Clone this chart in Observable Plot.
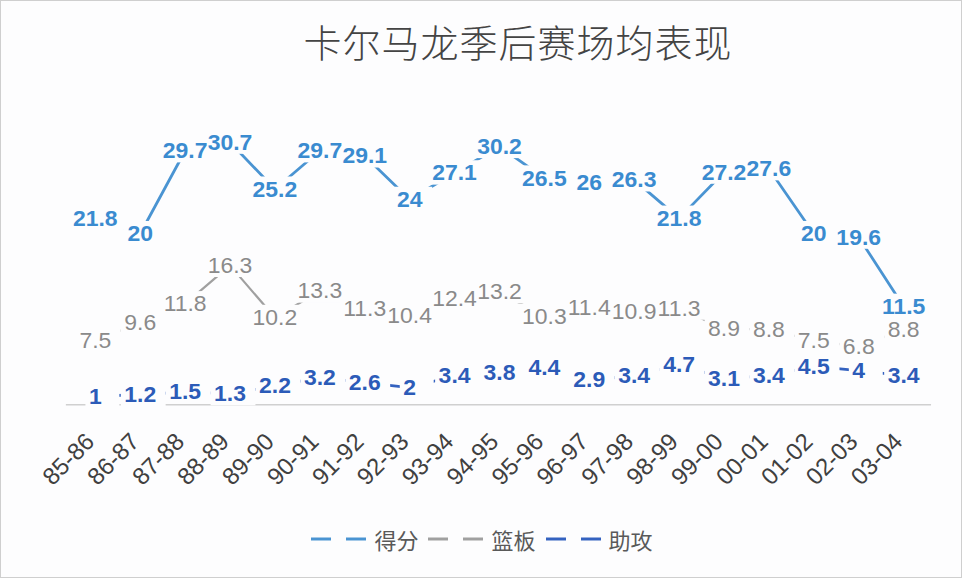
<!DOCTYPE html>
<html>
<head>
<meta charset="utf-8">
<script src="https://cdn.jsdelivr.net/npm/d3@7"></script>
<script src="https://cdn.jsdelivr.net/npm/@observablehq/plot@0.6"></script>
<style>
  body { margin: 0; background: #fff; }
  #wrap { position: relative; width: 962px; height: 578px; box-sizing: border-box; border: 1px solid #cfcfcf; background: #fdfdfe; overflow: hidden; font-family: "Liberation Sans", Arial, sans-serif; }
  #title { position: absolute; top: 12px; left: 0; width: 962px; padding-left: 72px; box-sizing: border-box; text-align: center; font-family: "Noto Sans CJK SC", sans-serif; font-weight: 300; font-size: 38px; color: #444; letter-spacing: 1px; }
  #chart { position: absolute; top: 80px; left: 0; }
  #legend { position: absolute; top: 522px; left: 0; width: 962px; display: flex; justify-content: center; align-items: center; font-family: "Noto Sans CJK SC", sans-serif; font-size: 22px; color: #595959; }
  .item { display: flex; align-items: center; margin: 0 5px; }
  .item svg { margin-right: 8px; }
</style>
</head>
<body>
<div id="wrap">
  <div id="title">卡尔马龙季后赛场均表现</div>
  <div id="chart"></div>
  <div id="legend"></div>
</div>
<script>
const seasons = ["85-86","86-87","87-88","88-89","89-90","90-91","91-92","92-93","93-94","94-95","95-96","96-97","97-98","98-99","99-00","00-01","01-02","02-03","03-04"];
const points   = [21.8,20,29.7,30.7,25.2,29.7,29.1,24,27.1,30.2,26.5,26,26.3,21.8,27.2,27.6,20,19.6,11.5];
const rebounds = [7.5,9.6,11.8,16.3,10.2,13.3,11.3,10.4,12.4,13.2,10.3,11.4,10.9,11.3,8.9,8.8,7.5,6.8,8.8];
const assists  = [1,1.2,1.5,1.3,2.2,3.2,2.6,2,3.4,3.8,4.4,2.9,3.4,4.7,3.1,3.4,4.5,4,3.4];
const seriesNames = ["得分","篮板","助攻"];
const lineColors  = ["#4a94d2","#a0a0a0","#3462c0"];
const labelColors = ["#3a8bd0","#8a8a8a","#2c5bb8"];
const weights     = ["bold","normal","bold"];

const seriesValues = [points, rebounds, assists];
const tables = seriesValues.map((vals, k) => seasons.map((s, i) => ({season: s, value: vals[i], series: seriesNames[k]})));
const bg = "#fdfdfe";
const FS = 23;

const marks = [Plot.ruleY([0], {stroke: "#d0d0d0", strokeWidth: 1.5})];
tables.forEach((t, k) => marks.push(Plot.line(t, {x: "season", y: "value", stroke: lineColors[k], strokeWidth: k === 1 ? 2.2 : 2.8})));
tables.forEach((t, k) => marks.push(Plot.text(t, {
  x: "season", y: "value", text: d => String(d.value),
  fill: labelColors[k], fontSize: FS, fontWeight: weights[k]
})));
marks.push(Plot.axisX({tickRotate: -45, tickSize: 0, tickPadding: 33, dx: -5, fontSize: 24, color: "#404040", label: null}));

const chart = Plot.plot({
  width: 962, height: 430,
  marginLeft: 65, marginRight: 30, marginTop: 24, marginBottom: 106,
  x: {type: "point", domain: seasons, padding: 0.5, label: null},
  y: {domain: [0, 35], axis: null},
  style: {fontFamily: "Liberation Sans, Arial, sans-serif", background: "transparent", overflow: "visible"},
  marks
});
document.getElementById("chart").appendChild(chart);

// Excel-style data label boxes, all placed under the label texts and above the lines
const NS = "http://www.w3.org/2000/svg";
const textGroups = chart.querySelectorAll('g[aria-label="text"]');
const boxLayer = document.createElementNS(NS, "g");
boxLayer.setAttribute("fill", bg);
if (textGroups.length) textGroups[0].parentNode.insertBefore(boxLayer, textGroups[0]);
textGroups.forEach(g => g.querySelectorAll("text").forEach(t => {
  const b = t.getBBox();
  const r = document.createElementNS(NS, "rect");
  const top = b.y + 0.19 * FS - 3;
  r.setAttribute("x", b.x - 3);
  r.setAttribute("y", top);
  r.setAttribute("width", Math.max(b.width + 13, 34));
  r.setAttribute("height", (b.y + 0.905 * FS + 5) - top);
  if (t.getAttribute("transform")) r.setAttribute("transform", t.getAttribute("transform"));
  boxLayer.appendChild(r);
}));

const legend = document.getElementById("legend");
seriesNames.forEach((name, k) => {
  const item = document.createElement("div");
  item.className = "item";
  item.innerHTML = `<svg width="55" height="10"><line x1="0" y1="5" x2="20" y2="5" stroke="${lineColors[k]}" stroke-width="3"/><line x1="35" y1="5" x2="55" y2="5" stroke="${lineColors[k]}" stroke-width="3"/></svg><span>${name}</span>`;
  legend.appendChild(item);
});
</script>
</body>
</html>
